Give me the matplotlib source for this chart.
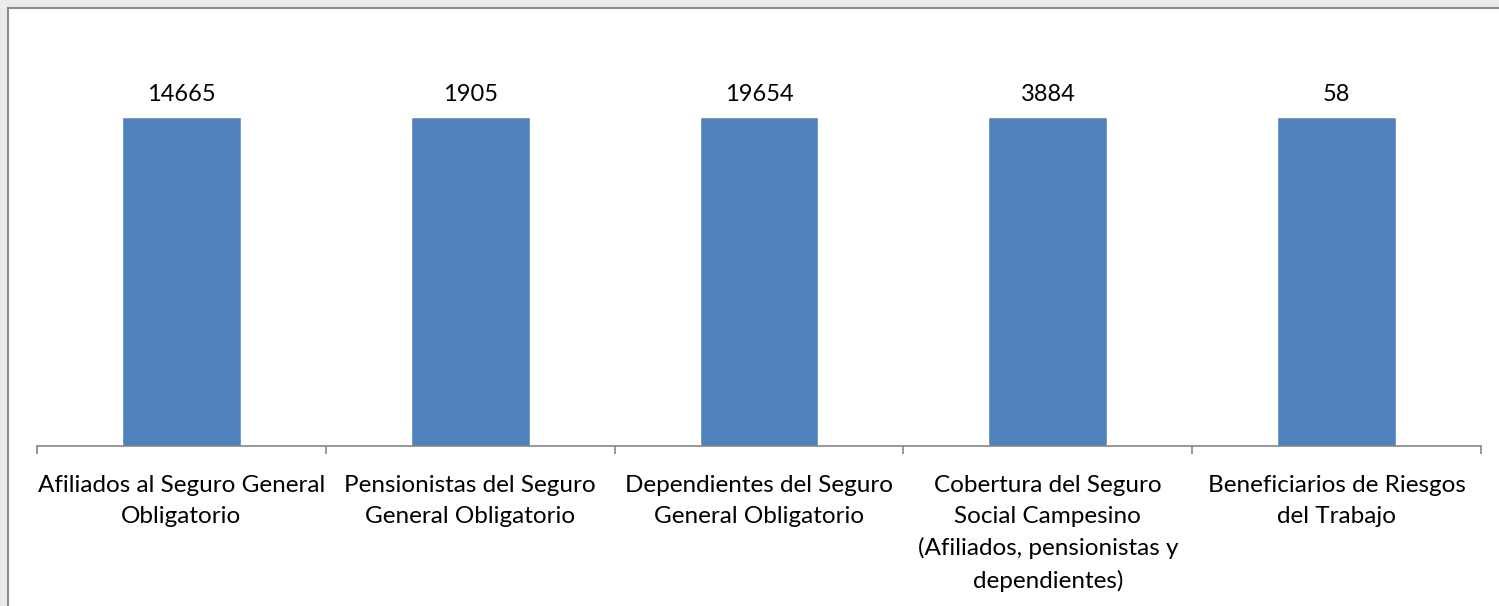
import matplotlib
matplotlib.use("Agg")
import matplotlib.pyplot as plt
from matplotlib.patches import Rectangle

# --- Datos ---
categorias = [
    "Afiliados al Seguro General\nObligatorio",
    "Pensionistas del Seguro\nGeneral Obligatorio",
    "Dependientes del Seguro\nGeneral Obligatorio",
    "Cobertura del Seguro\nSocial Campesino\n(Afiliados, pensionistas y\ndependientes)",
    "Beneficiarios de Riesgos\ndel Trabajo",
]
etiquetas = [14665, 1905, 19654, 3884, 58]
alturas = [1.0, 1.0, 1.0, 1.0, 1.0]  # todas las barras a la misma altura

W, H = 1499, 606
fig = plt.figure(figsize=(W / 100, H / 100), dpi=100)
fig.patch.set_facecolor('#ebebeb')
plt.rcParams['font.family'] = ['Lato', 'DejaVu Sans']

# marco blanco del gráfico
marco = Rectangle((8 / W, -0.05), 1.2, 1 - 8 / H + 0.05,
                  transform=fig.transFigure, facecolor='white',
                  edgecolor='#8c8c8c', linewidth=1.5, zorder=-10)
fig.patches.append(marco)

ax = fig.add_axes([37 / W, 1 - 446 / H, 1444 / W, 416 / H])
ax.set_zorder(5)
ax.set_facecolor('none')

x = list(range(len(categorias)))
barras = ax.bar(x, alturas, width=0.405, color='#4f81bd', edgecolor='#6a95c8', linewidth=0.6)

for xi, h, lab in zip(x, alturas, etiquetas):
    ax.text(xi, h + 0.04, str(lab), ha='center', va='bottom', fontsize=17, color='black')

ax.set_xlim(-0.5, len(categorias) - 0.5)
ax.set_ylim(0, 416 / 328)

for s in ['top', 'right', 'left']:
    ax.spines[s].set_visible(False)
ax.spines['bottom'].set_color('#868686')
ax.spines['bottom'].set_linewidth(1.2)
ax.set_yticks([])

ax.set_xticks(x)
ax.set_xticklabels(categorias, fontsize=17.5, linespacing=1.57)
ax.tick_params(axis='x', which='major', length=0, pad=21)
ax.set_xticks([i - 0.5 for i in range(len(categorias) + 1)], minor=True)
ax.tick_params(axis='x', which='minor', length=6, width=1.2, color='#868686', direction='out')

fig.savefig('out.png', dpi=100, facecolor=fig.get_facecolor())
